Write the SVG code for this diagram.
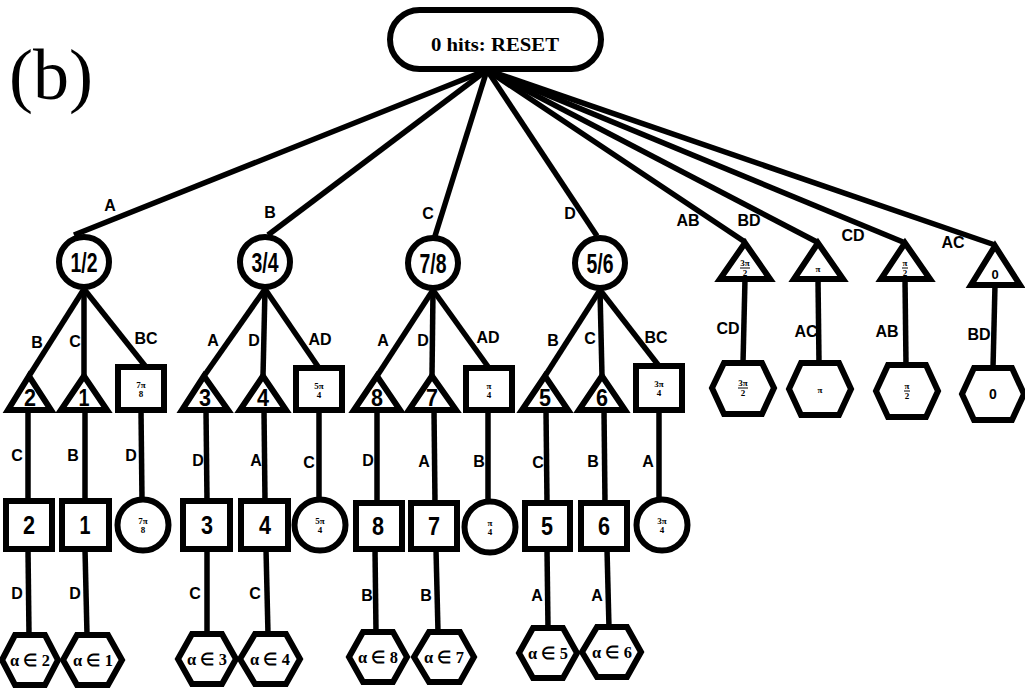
<svg xmlns="http://www.w3.org/2000/svg" width="1025" height="689" viewBox="0 0 1025 689">
  <style>
    .n { fill: #fff; stroke: #000; stroke-width: 6; stroke-linejoin: miter; }
    .e { stroke: #000; stroke-width: 5.5; fill: none; stroke-linecap: butt; }
    .lbl { font-family: "Liberation Sans", Arial, sans-serif; font-weight: bold; font-size: 16px; fill: #000; text-anchor: middle; }
    .big { font-family: "Liberation Sans", Arial, sans-serif; font-weight: bold; fill: #000; text-anchor: middle; }
    .fr { font-family: "Liberation Serif", "Times New Roman", serif; font-weight: bold; font-size: 9px; fill: #000; text-anchor: middle; }
    .hx { font-family: "Liberation Serif", "Times New Roman", serif; font-weight: bold; font-size: 17px; fill: #000; text-anchor: middle; }
    .bar { stroke: #000; stroke-width: 1; }
  </style>

  <!-- panel tag -->
  <text x="9" y="99" font-family="Liberation Serif, Times New Roman, serif" font-size="72" fill="#000">(b)</text>

  <!-- connectors -->
  <g id="connectors">
    <!-- from RESET -->
    <line class="e" x1="487" y1="70" x2="74" y2="235"/>
    <line class="e" x1="487" y1="70" x2="268" y2="235"/>
    <line class="e" x1="487" y1="70" x2="435" y2="236"/>
    <line class="e" x1="487" y1="70" x2="597" y2="236"/>
    <line class="e" x1="487" y1="70" x2="745" y2="242"/>
    <line class="e" x1="487" y1="70" x2="817" y2="242"/>
    <line class="e" x1="487" y1="70" x2="903" y2="242"/>
    <line class="e" x1="487" y1="70" x2="995" y2="245"/>

    <!-- 1/2 branch -->
    <line class="e" x1="84" y1="289" x2="29" y2="376"/>
    <line class="e" x1="84" y1="289" x2="84" y2="376"/>
    <line class="e" x1="84" y1="289" x2="146" y2="367"/>
    <line class="e" x1="28" y1="410" x2="28" y2="501"/>
    <line class="e" x1="85" y1="410" x2="85" y2="501"/>
    <line class="e" x1="141" y1="410" x2="142" y2="500"/>
    <line class="e" x1="28" y1="549" x2="29" y2="635"/>
    <line class="e" x1="85" y1="549" x2="87" y2="635"/>

    <!-- 3/4 branch -->
    <line class="e" x1="265" y1="289" x2="204" y2="376"/>
    <line class="e" x1="265" y1="289" x2="263" y2="376"/>
    <line class="e" x1="265" y1="289" x2="319" y2="368"/>
    <line class="e" x1="206" y1="410" x2="207" y2="501"/>
    <line class="e" x1="264" y1="410" x2="265" y2="501"/>
    <line class="e" x1="319" y1="410" x2="319" y2="500"/>
    <line class="e" x1="207" y1="549" x2="207" y2="634"/>
    <line class="e" x1="266" y1="549" x2="268" y2="634"/>

    <!-- 7/8 branch -->
    <line class="e" x1="433" y1="290" x2="377" y2="376"/>
    <line class="e" x1="433" y1="290" x2="432" y2="376"/>
    <line class="e" x1="433" y1="290" x2="489" y2="368"/>
    <line class="e" x1="377" y1="410" x2="377" y2="503"/>
    <line class="e" x1="434" y1="410" x2="435" y2="503"/>
    <line class="e" x1="488" y1="410" x2="488" y2="502"/>
    <line class="e" x1="375" y1="549" x2="376" y2="632"/>
    <line class="e" x1="436" y1="549" x2="438" y2="632"/>

    <!-- 5/6 branch -->
    <line class="e" x1="600" y1="290" x2="545" y2="376"/>
    <line class="e" x1="600" y1="290" x2="602" y2="376"/>
    <line class="e" x1="600" y1="290" x2="659" y2="366"/>
    <line class="e" x1="546" y1="410" x2="547" y2="503"/>
    <line class="e" x1="604" y1="410" x2="605" y2="503"/>
    <line class="e" x1="659" y1="410" x2="659" y2="500"/>
    <line class="e" x1="547" y1="549" x2="548" y2="628"/>
    <line class="e" x1="607" y1="549" x2="609" y2="628"/>

    <!-- double-hit branches -->
    <line class="e" x1="745" y1="279" x2="743" y2="363"/>
    <line class="e" x1="818" y1="279" x2="819" y2="363"/>
    <line class="e" x1="905" y1="279" x2="906" y2="365"/>
    <line class="e" x1="995" y1="285" x2="993" y2="368"/>
  </g>

  <!-- edge labels -->
  <g id="edge-labels">
    <text class="lbl" x="110" y="211">A</text>
    <text class="lbl" x="270" y="218">B</text>
    <text class="lbl" x="428" y="219">C</text>
    <text class="lbl" x="570" y="219">D</text>
    <text class="lbl" x="688" y="226">AB</text>
    <text class="lbl" x="749" y="226">BD</text>
    <text class="lbl" x="853" y="241">CD</text>
    <text class="lbl" x="953" y="248">AC</text>

    <text class="lbl" x="37" y="348">B</text>
    <text class="lbl" x="75" y="347">C</text>
    <text class="lbl" x="146" y="344">BC</text>
    <text class="lbl" x="213" y="346">A</text>
    <text class="lbl" x="254" y="346">D</text>
    <text class="lbl" x="320" y="345">AD</text>
    <text class="lbl" x="383" y="346">A</text>
    <text class="lbl" x="423" y="346">D</text>
    <text class="lbl" x="488" y="343">AD</text>
    <text class="lbl" x="553" y="346">B</text>
    <text class="lbl" x="590" y="344">C</text>
    <text class="lbl" x="656" y="343">BC</text>

    <text class="lbl" x="17" y="461">C</text>
    <text class="lbl" x="73" y="461">B</text>
    <text class="lbl" x="131" y="461">D</text>
    <text class="lbl" x="198" y="466">D</text>
    <text class="lbl" x="256" y="466">A</text>
    <text class="lbl" x="309" y="468">C</text>
    <text class="lbl" x="368" y="466">D</text>
    <text class="lbl" x="424" y="467">A</text>
    <text class="lbl" x="479" y="467">B</text>
    <text class="lbl" x="538" y="468">C</text>
    <text class="lbl" x="593" y="467">B</text>
    <text class="lbl" x="648" y="467">A</text>

    <text class="lbl" x="17" y="599">D</text>
    <text class="lbl" x="75" y="599">D</text>
    <text class="lbl" x="195" y="599">C</text>
    <text class="lbl" x="255" y="599">C</text>
    <text class="lbl" x="367" y="601">B</text>
    <text class="lbl" x="426" y="601">B</text>
    <text class="lbl" x="537" y="601">A</text>
    <text class="lbl" x="597" y="601">A</text>

    <text class="lbl" x="728" y="334">CD</text>
    <text class="lbl" x="806" y="337">AC</text>
    <text class="lbl" x="887" y="337">AB</text>
    <text class="lbl" x="979" y="340">BD</text>
  </g>

  <!-- root -->
  <g id="reset">
    <rect class="n" x="390" y="10" width="211" height="59" rx="29.5"/>
    <text x="495" y="51" font-family="Liberation Serif, Times New Roman, serif" font-weight="bold" font-size="19" text-anchor="middle" textLength="128" lengthAdjust="spacingAndGlyphs">0 hits: RESET</text>
  </g>

  <!-- single-hit circles -->
  <g id="c-1-2"><circle class="n" cx="84" cy="262" r="25"/><text class="big" x="84" y="272" font-size="27" textLength="27" lengthAdjust="spacingAndGlyphs">1/2</text></g>
  <g id="c-3-4"><circle class="n" cx="265" cy="262" r="25"/><text class="big" x="265" y="272" font-size="27" textLength="27" lengthAdjust="spacingAndGlyphs">3/4</text></g>
  <g id="c-7-8"><circle class="n" cx="433" cy="263" r="25"/><text class="big" x="433" y="273" font-size="27" textLength="27" lengthAdjust="spacingAndGlyphs">7/8</text></g>
  <g id="c-5-6"><circle class="n" cx="600" cy="263" r="25"/><text class="big" x="600" y="273" font-size="27" textLength="27" lengthAdjust="spacingAndGlyphs">5/6</text></g>

  <!-- second-level triangles -->
  <g id="t-2"><polygon class="n" points="29,376 8,410 51,410"/><text class="big" x="30" y="406" font-size="24" textLength="12" lengthAdjust="spacingAndGlyphs">2</text></g>
  <g id="t-1"><polygon class="n" points="84,376 61,410 107,410"/><text class="big" x="84" y="406" font-size="24" textLength="11" lengthAdjust="spacingAndGlyphs">1</text></g>
  <g id="t-3"><polygon class="n" points="204,376 182,410 228,410"/><text class="big" x="205" y="406" font-size="24" textLength="12" lengthAdjust="spacingAndGlyphs">3</text></g>
  <g id="t-4"><polygon class="n" points="263,376 240,410 286,410"/><text class="big" x="263" y="406" font-size="24" textLength="12" lengthAdjust="spacingAndGlyphs">4</text></g>
  <g id="t-8"><polygon class="n" points="377,376 354,410 400,410"/><text class="big" x="377" y="406" font-size="24" textLength="12" lengthAdjust="spacingAndGlyphs">8</text></g>
  <g id="t-7"><polygon class="n" points="432,376 409,410 456,410"/><text class="big" x="432" y="406" font-size="24" textLength="12" lengthAdjust="spacingAndGlyphs">7</text></g>
  <g id="t-5"><polygon class="n" points="545,376 522,410 568,410"/><text class="big" x="545" y="406" font-size="24" textLength="12" lengthAdjust="spacingAndGlyphs">5</text></g>
  <g id="t-6"><polygon class="n" points="602,376 579,410 625,410"/><text class="big" x="602" y="406" font-size="24" textLength="12" lengthAdjust="spacingAndGlyphs">6</text></g>

  <!-- second-level squares -->
  <g id="s-7pi8"><rect class="n" x="118" y="367" width="46" height="43"/><text class="fr" x="141" y="388">7π</text><text class="fr" x="141" y="397">8</text></g>
  <g id="s-5pi4"><rect class="n" x="296" y="368" width="46" height="42"/><text class="fr" x="319" y="389">5π</text><text class="fr" x="319" y="398">4</text></g>
  <g id="s-pi4"><rect class="n" x="466" y="368" width="46" height="42"/><text class="fr" x="489" y="389">π</text><text class="fr" x="489" y="398">4</text></g>
  <g id="s-3pi4"><rect class="n" x="636" y="366" width="46" height="44"/><text class="fr" x="659" y="387">3π</text><text class="fr" x="659" y="396">4</text></g>

  <!-- third-level squares -->
  <g id="q-2"><rect class="n" x="6" y="501" width="46" height="48"/><text class="big" x="29" y="534" font-size="25" textLength="12" lengthAdjust="spacingAndGlyphs">2</text></g>
  <g id="q-1"><rect class="n" x="62" y="501" width="47" height="48"/><text class="big" x="85" y="534" font-size="25" textLength="11" lengthAdjust="spacingAndGlyphs">1</text></g>
  <g id="q-3"><rect class="n" x="183" y="501" width="47" height="48"/><text class="big" x="207" y="534" font-size="25" textLength="12" lengthAdjust="spacingAndGlyphs">3</text></g>
  <g id="q-4"><rect class="n" x="241" y="501" width="47" height="48"/><text class="big" x="265" y="534" font-size="25" textLength="12" lengthAdjust="spacingAndGlyphs">4</text></g>
  <g id="q-8"><rect class="n" x="356" y="503" width="46" height="46"/><text class="big" x="378" y="535" font-size="25" textLength="12" lengthAdjust="spacingAndGlyphs">8</text></g>
  <g id="q-7"><rect class="n" x="411" y="503" width="46" height="46"/><text class="big" x="434" y="535" font-size="25" textLength="12" lengthAdjust="spacingAndGlyphs">7</text></g>
  <g id="q-5"><rect class="n" x="525" y="503" width="45" height="46"/><text class="big" x="547" y="535" font-size="25" textLength="12" lengthAdjust="spacingAndGlyphs">5</text></g>
  <g id="q-6"><rect class="n" x="581" y="503" width="46" height="46"/><text class="big" x="604" y="535" font-size="25" textLength="12" lengthAdjust="spacingAndGlyphs">6</text></g>

  <!-- third-level circles -->
  <g id="r-7pi8"><circle class="n" cx="143" cy="525" r="25.5"/><text class="fr" x="143" y="524">7π</text><text class="fr" x="143" y="533">8</text></g>
  <g id="r-5pi4"><circle class="n" cx="320" cy="525" r="25.5"/><text class="fr" x="320" y="524">5π</text><text class="fr" x="320" y="533">4</text></g>
  <g id="r-pi4"><circle class="n" cx="490" cy="527" r="25.5"/><text class="fr" x="490" y="526">π</text><text class="fr" x="490" y="535">4</text></g>
  <g id="r-3pi4"><circle class="n" cx="662" cy="525" r="25.5"/><text class="fr" x="662" y="524">3π</text><text class="fr" x="662" y="533">4</text></g>

  <!-- bottom hexagons -->
  <g id="h-a2"><polygon class="n" points="2,660 15,635 45,635 58,660 45,685 15,685"/><text class="hx" x="30" y="666" textLength="40" lengthAdjust="spacingAndGlyphs">α ∈ 2</text></g>
  <g id="h-a1"><polygon class="n" points="63,660 77,635 108,635 122,660 108,685 77,685"/><text class="hx" x="93" y="666" textLength="40" lengthAdjust="spacingAndGlyphs">α ∈ 1</text></g>
  <g id="h-a3"><polygon class="n" points="178,659 192,634 222,634 236,659 222,684 192,684"/><text class="hx" x="207" y="665" textLength="40" lengthAdjust="spacingAndGlyphs">α ∈ 3</text></g>
  <g id="h-a4"><polygon class="n" points="240,659 255,634 286,634 300,659 286,684 255,684"/><text class="hx" x="270" y="665" textLength="40" lengthAdjust="spacingAndGlyphs">α ∈ 4</text></g>
  <g id="h-a8"><polygon class="n" points="349,657 363,632 393,632 407,657 393,682 363,682"/><text class="hx" x="378" y="663" textLength="40" lengthAdjust="spacingAndGlyphs">α ∈ 8</text></g>
  <g id="h-a7"><polygon class="n" points="414,657 429,632 460,632 474,657 460,682 429,682"/><text class="hx" x="444" y="663" textLength="40" lengthAdjust="spacingAndGlyphs">α ∈ 7</text></g>
  <g id="h-a5"><polygon class="n" points="519,653 533,628 563,628 577,653 563,678 533,678"/><text class="hx" x="548" y="659" textLength="40" lengthAdjust="spacingAndGlyphs">α ∈ 5</text></g>
  <g id="h-a6"><polygon class="n" points="582,652 597,627 627,627 641,652 627,677 597,677"/><text class="hx" x="612" y="658" textLength="40" lengthAdjust="spacingAndGlyphs">α ∈ 6</text></g>

  <!-- double-hit triangles -->
  <g id="t-3pi2"><polygon class="n" points="745,243 720,279 770,279"/><text class="fr" x="745" y="266">3π</text><line class="bar" x1="740" y1="268" x2="750" y2="268"/><text class="fr" x="745" y="276">2</text></g>
  <g id="t-pi"><polygon class="n" points="818,243 794,279 843,279"/><text class="fr" x="818" y="272" font-size="11">π</text></g>
  <g id="t-pi2"><polygon class="n" points="905,243 881,279 930,279"/><text class="fr" x="905" y="266">π</text><line class="bar" x1="902" y1="268" x2="908" y2="268"/><text class="fr" x="905" y="276">2</text></g>
  <g id="t-0"><polygon class="n" points="995,246 971,285 1020,285"/><text class="big" x="995" y="279" font-size="13">0</text></g>

  <!-- double-hit hexagons -->
  <g id="h-3pi2"><polygon class="n" points="712,388 724,363 762,363 774,388 762,414 724,414"/><text class="fr" x="743" y="386">3π</text><line class="bar" x1="738" y1="388" x2="748" y2="388"/><text class="fr" x="743" y="396">2</text></g>
  <g id="h-pi"><polygon class="n" points="789,389 801,363 839,363 851,389 839,415 801,415"/><text class="fr" x="820" y="393" font-size="11">π</text></g>
  <g id="h-pi2"><polygon class="n" points="876,391 888,365 926,365 938,391 926,417 888,417"/><text class="fr" x="907" y="389">π</text><line class="bar" x1="904" y1="391" x2="910" y2="391"/><text class="fr" x="907" y="399">2</text></g>
  <g id="h-0"><polygon class="n" points="962,394 974,368 1012,368 1024,394 1012,420 974,420"/><text class="big" x="993" y="399" font-size="14">0</text></g>
</svg>
